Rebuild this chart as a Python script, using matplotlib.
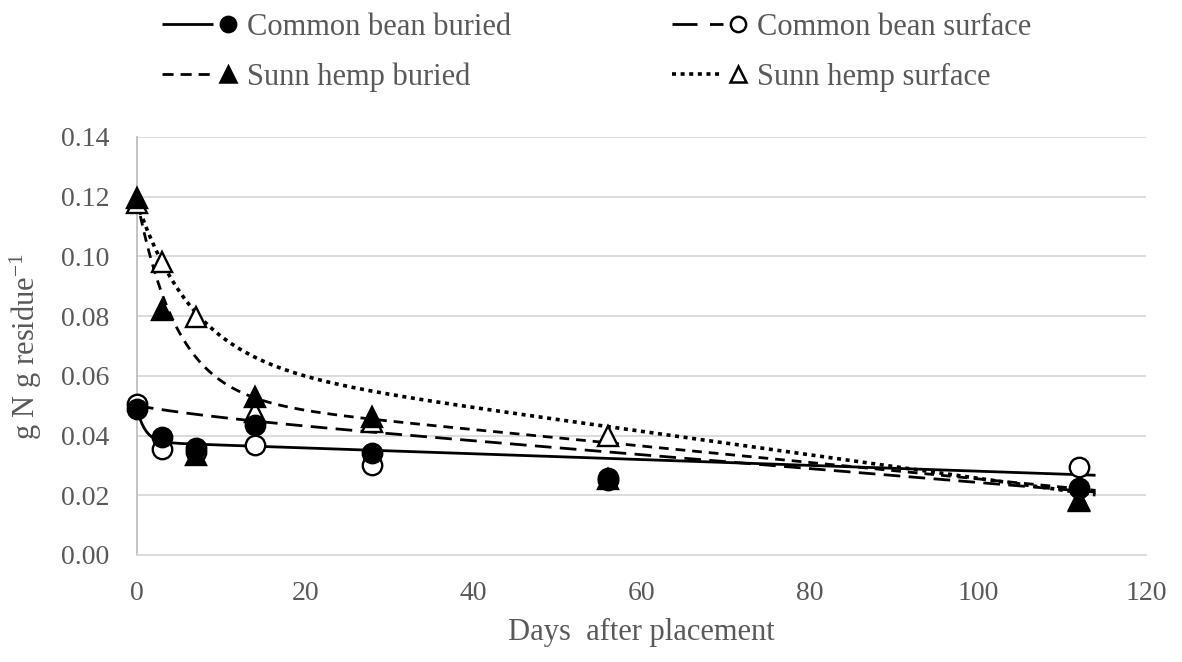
import numpy as np
import matplotlib
matplotlib.use("Agg")
import matplotlib.pyplot as plt
from matplotlib.lines import Line2D

plt.rcParams["font.family"] = ["Liberation Serif", "DejaVu Serif"]
plt.rcParams["mathtext.fontset"] = "custom"
plt.rcParams["mathtext.rm"] = "Liberation Serif"
plt.rcParams["mathtext.it"] = "Liberation Serif:italic"
plt.rcParams["lines.scale_dashes"] = False

# Sampling days (days after placement)
days = [0, 3, 7, 14, 28, 56, 112]

# Measured N remaining in residue (g N g residue^-1)
cb_buried = [0.0489, 0.0395, 0.0358, 0.0435, 0.0342, 0.0258, 0.0226]
cb_surface = [0.0506, 0.0355, 0.0345, 0.0368, 0.0301, 0.0252, 0.0295]
sh_buried = [0.1195, 0.0821, 0.0335, 0.0529, 0.0462, 0.0255, 0.0180]
sh_surface = [0.1178, 0.0981, 0.0797, 0.0479, 0.0445, 0.0400, 0.0183]

# Fitted decay curves: y = a*exp(-k*t) + c + d*t
fit_cb_buried = dict(a=0.0112, k=1.0, c=0.0378, d=-0.0000973)
fit_cb_surface = dict(a=0.0025, k=0.10, c=0.0475, d=-0.000232)
fit_sh_buried = dict(a=0.066, k=0.21, c=0.053, d=-0.000275)
fit_sh_surface = dict(a=0.053, k=0.147, c=0.065, d=-0.000393)

labels = ["Common bean buried", "Common bean surface",
          "Sunn hemp buried", "Sunn hemp surface"]

x_ticks = [0, 20, 40, 60, 80, 100, 120]
y_ticks = [0.00, 0.02, 0.04, 0.06, 0.08, 0.10, 0.12, 0.14]


def decay(t, a, k, c, d):
    return a * np.exp(-k * t) + c + d * t


W, H = 1182, 662
fig = plt.figure(figsize=(W / 100, H / 100), dpi=100)
ax = fig.add_axes([137 / W, 1 - 555 / H, (1146 - 137) / W, (555 - 137) / H])

TXT = "#595959"
GRID = "#d9d9d9"

t = np.linspace(0, 114, 400)

DOT = (2.9, 3.3)
styles = [
    dict(data=cb_buried, fit=fit_cb_buried, dashes=None, lw=2.0,
         marker="o", mfc="black", z=6),
    dict(data=cb_surface, fit=fit_cb_surface, dashes=(12, 6), lw=2.0,
         marker="o", mfc="white", z=4),
    dict(data=sh_buried, fit=fit_sh_buried, dashes=(7, 5), lw=2.0,
         marker="^", mfc="black", z=5),
    dict(data=sh_surface, fit=fit_sh_surface, dashes=DOT, lw=2.6,
         marker="^", mfc="white", z=3),
]

for s in styles:
    line, = ax.plot(t, decay(t, **s["fit"]), color="black", lw=s["lw"],
                    zorder=2, solid_capstyle="butt", dash_capstyle="butt")
    if s["dashes"] is not None:
        line.set_dashes(s["dashes"])
    ax.plot(days, s["data"], linestyle="none", marker=s["marker"],
            markersize=14, markerfacecolor=s["mfc"], markeredgecolor="black",
            markeredgewidth=1.7, zorder=s["z"], clip_on=False)

ax.set_xlim(0, 120)
ax.set_ylim(0, 0.14)
ax.set_xticks(x_ticks)
ax.set_yticks(y_ticks)
ax.set_yticklabels([f"{v:.2f}" for v in y_ticks])
ax.tick_params(axis="both", length=0, labelsize=20, labelcolor=TXT)
ax.tick_params(axis="y", pad=20)
ax.tick_params(axis="x", pad=19)
ax.grid(axis="y", color=GRID, lw=1.3)
ax.set_axisbelow(True)
for side in ("top", "right"):
    ax.spines[side].set_visible(False)
ax.spines["bottom"].set_color(GRID)
ax.spines["bottom"].set_linewidth(1.3)
ax.spines["left"].set_color("#bfbfbf")
ax.spines["left"].set_linewidth(1.3)

ax.set_xlabel("Days  after placement", fontsize=22, color=TXT, labelpad=8)
ax.set_ylabel("g N g residue$^{-1}$", fontsize=22, color=TXT, labelpad=12)


# Legend drawn in figure pixel coordinates (two rows, two columns)
def fx(px):
    return px / W


def fy(py):
    return 1 - py / H


legend_items = [
    (labels[0], 162, 213, 228, 247, 24, None, 2.0, "o", "black"),
    (labels[1], 672, 723, 738, 757, 24, (18, 9), 2.0, "o", "white"),
    (labels[2], 162, 213, 228, 247, 74, (8, 5), 2.0, "^", "black"),
    (labels[3], 672, 723, 738, 757, 74, DOT, 2.6, "^", "white"),
]
for text, x0, x1, xm, xt, yc, dash, lw, mk, mfc in legend_items:
    ln = Line2D([fx(x0), fx(x1)], [fy(yc), fy(yc)], transform=fig.transFigure,
                color="black", lw=lw,
                solid_capstyle="butt", dash_capstyle="butt")
    if dash is not None:
        ln.set_dashes(dash)
    fig.add_artist(ln)
    fig.add_artist(Line2D([fx(xm)], [fy(yc)], transform=fig.transFigure,
                          linestyle="none", marker=mk, markersize=11,
                          markerfacecolor=mfc, markeredgecolor="black",
                          markeredgewidth=1.8))
    fig.text(fx(xt), fy(yc), text, fontsize=22, color=TXT,
             ha="left", va="center_baseline")

fig.savefig("out.png", dpi=100, facecolor="white")
